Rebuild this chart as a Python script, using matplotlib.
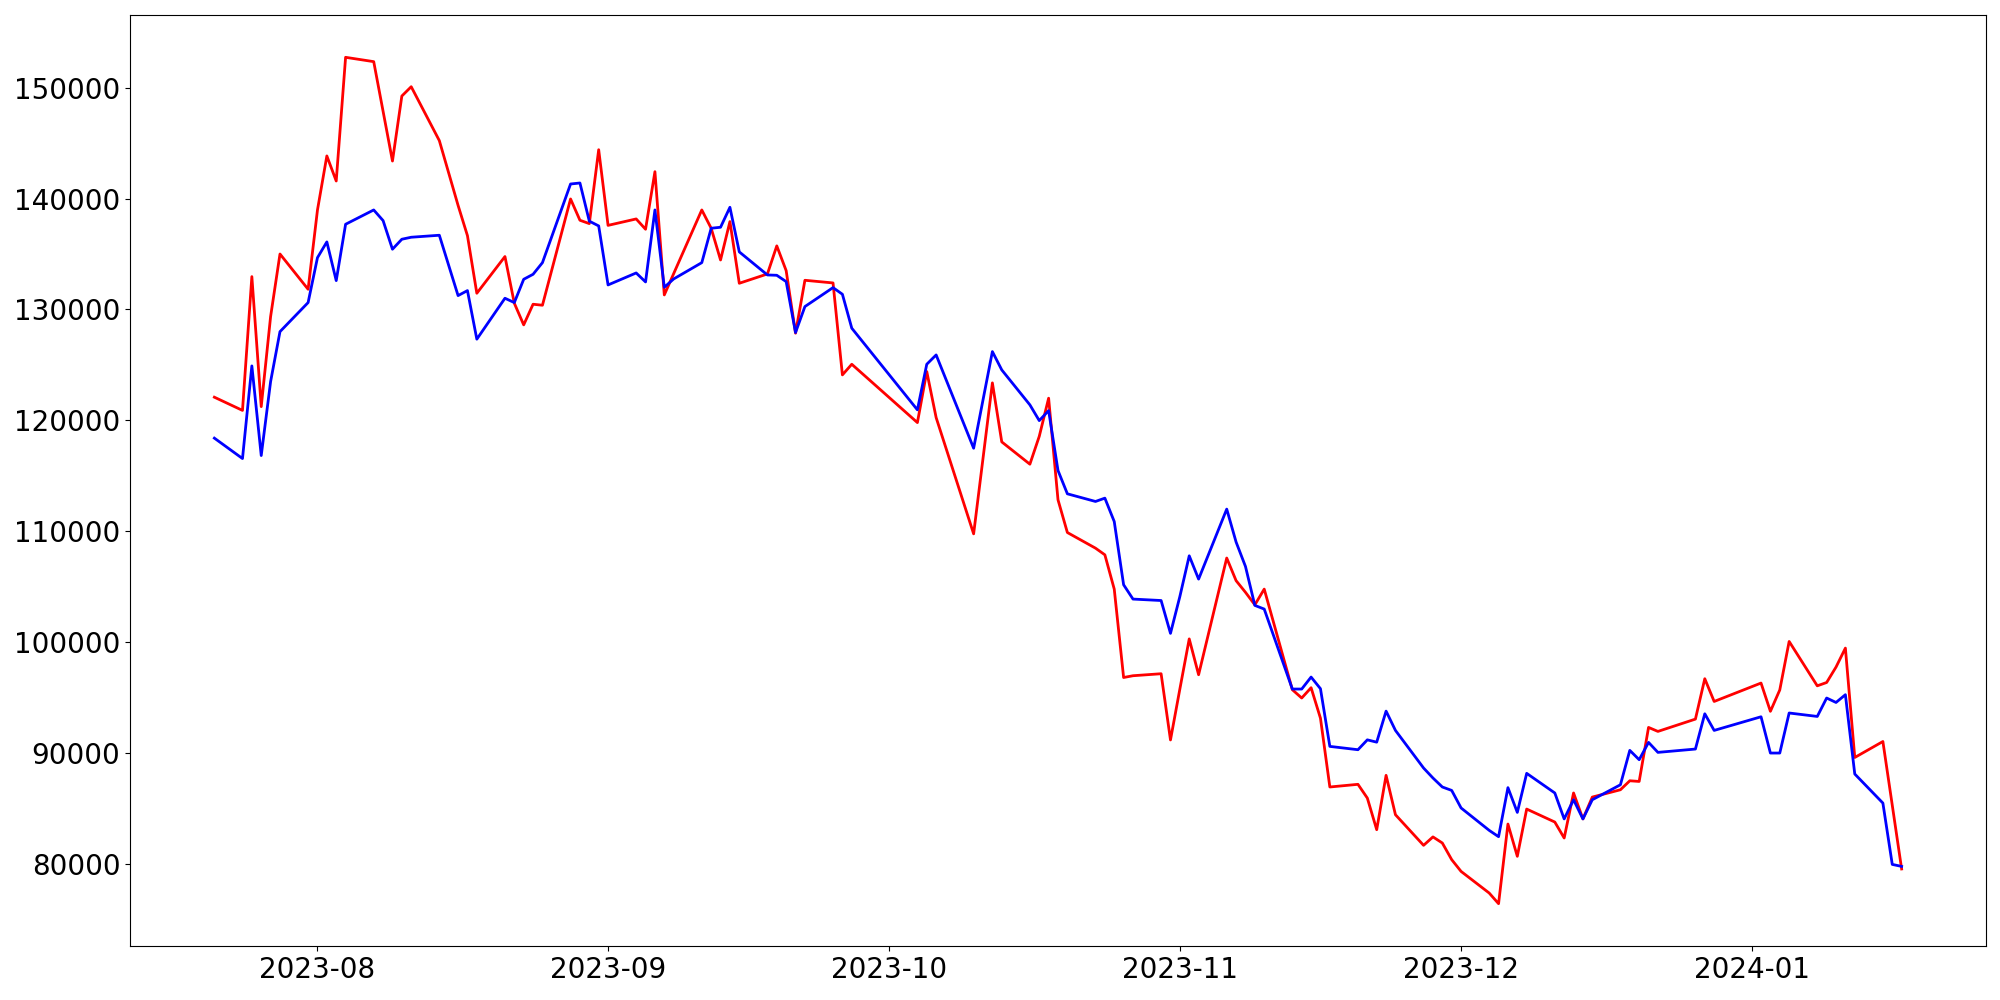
import matplotlib
matplotlib.use("Agg")
import matplotlib.pyplot as plt
import matplotlib.dates as mdates
import pandas as pd

dates = [
    "2023-07-21", "2023-07-24", "2023-07-25", "2023-07-26", "2023-07-27", "2023-07-28", "2023-07-31",
    "2023-08-01", "2023-08-02", "2023-08-03", "2023-08-04", "2023-08-07", "2023-08-08", "2023-08-09",
    "2023-08-10", "2023-08-11", "2023-08-14", "2023-08-16", "2023-08-17", "2023-08-18", "2023-08-21",
    "2023-08-22", "2023-08-23", "2023-08-24", "2023-08-25", "2023-08-28", "2023-08-29", "2023-08-30",
    "2023-08-31",
    "2023-09-01", "2023-09-04", "2023-09-05", "2023-09-06", "2023-09-07", "2023-09-08", "2023-09-11",
    "2023-09-12", "2023-09-13", "2023-09-14", "2023-09-15", "2023-09-18", "2023-09-19", "2023-09-20",
    "2023-09-21", "2023-09-22", "2023-09-25", "2023-09-26", "2023-09-27",
    "2023-10-04", "2023-10-05", "2023-10-06", "2023-10-10", "2023-10-12", "2023-10-13", "2023-10-16",
    "2023-10-17", "2023-10-18", "2023-10-19", "2023-10-20", "2023-10-23", "2023-10-24", "2023-10-25",
    "2023-10-26", "2023-10-27", "2023-10-30", "2023-10-31",
    "2023-11-01", "2023-11-02", "2023-11-03", "2023-11-06", "2023-11-07", "2023-11-08", "2023-11-09",
    "2023-11-10", "2023-11-13", "2023-11-14", "2023-11-15", "2023-11-16", "2023-11-17", "2023-11-20",
    "2023-11-21", "2023-11-22", "2023-11-23", "2023-11-24", "2023-11-27", "2023-11-28", "2023-11-29",
    "2023-11-30",
    "2023-12-01", "2023-12-04", "2023-12-05", "2023-12-06", "2023-12-07", "2023-12-08", "2023-12-11",
    "2023-12-12", "2023-12-13", "2023-12-14", "2023-12-15", "2023-12-18", "2023-12-19", "2023-12-20",
    "2023-12-21", "2023-12-22", "2023-12-26", "2023-12-27", "2023-12-28",
    "2024-01-02", "2024-01-03", "2024-01-04", "2024-01-05", "2024-01-08", "2024-01-09", "2024-01-10",
    "2024-01-11", "2024-01-12", "2024-01-15", "2024-01-16", "2024-01-17",
]

red_values = [
    122090, 120900, 132960, 121240, 129360, 135000, 131820,
    138970, 143840, 141580, 152730, 152340, 147860, 143380,
    149240, 150080, 145220, 139380, 136650, 131460, 134770,
    130560, 128610, 130470, 130380, 139960, 138040, 137740,
    144400,
    137580, 138160, 137230, 142420, 131310, 133230, 138970,
    137320, 134460, 137920, 132360, 133200, 135730, 133500,
    127860, 132630, 132390, 124100, 125060,
    119800, 124400, 120250, 109770, 123380, 118060, 116050,
    118560, 122000, 112840, 109890, 108480, 107880, 104790,
    96820, 96980, 97160, 91190,
    95780, 100300, 97070, 107590, 105550, 104500, 103370,
    104790, 95720, 94970, 95900, 93150, 86950, 87190,
    85950, 83100, 88000, 84450, 81690, 82450, 81900,
    80400,
    79340, 77390, 76430, 83610, 80700, 84960, 83790,
    82350, 86410, 84070, 86040, 86700, 87510, 87450,
    92320, 91960, 93070, 96710, 94660,
    96320, 93770, 95700, 100070, 96070, 96370, 97760,
    99470, 89610, 91050, 85310, 79560,
]

blue_values = [
    118400, 116560, 124910, 116830, 123500, 128000, 130620,
    134670, 136090, 132600, 137680, 138970, 138010, 135430,
    136330, 136510, 136690, 131250, 131700, 127320, 131010,
    130620, 132720, 133170, 134220, 141310, 141400, 137960,
    137530,
    132210, 133290, 132480, 138970, 132000, 132750, 134220,
    137320, 137410, 139210, 135190, 133110, 133080, 132510,
    127920, 130260, 131970, 131370, 128310,
    120950, 125060, 125900, 117490, 126200, 124550, 121400,
    119980, 120880, 115480, 113380, 112690, 112990, 110880,
    105180, 103890, 103760, 100800,
    104120, 107790, 105690, 112000, 109030, 106830, 103320,
    102990, 95780, 95780, 96860, 95810, 90610, 90310,
    91200, 90990, 93790, 92050, 88660, 87760, 86950,
    86640,
    85060, 83040, 82470, 86890, 84660, 88180, 86410,
    84070, 85800, 84070, 85800, 87150, 90250, 89410,
    90970, 90070, 90370, 93550, 92050,
    93280, 90010, 90010, 93620, 93310, 94970, 94570,
    95270, 88120, 85500, 79970, 79790,
]

x = pd.to_datetime(dates)

fig = plt.figure(figsize=(20, 10), dpi=100)
ax = fig.add_axes([0.065, 0.054, 0.928, 0.931])
ax.plot(x, red_values, color="red", linewidth=2)
ax.plot(x, blue_values, color="blue", linewidth=2)

ax.xaxis.set_major_locator(mdates.MonthLocator())
ax.xaxis.set_major_formatter(mdates.DateFormatter("%Y-%m"))
ax.tick_params(axis="both", labelsize=20)

fig.savefig("out.png", dpi=100)
